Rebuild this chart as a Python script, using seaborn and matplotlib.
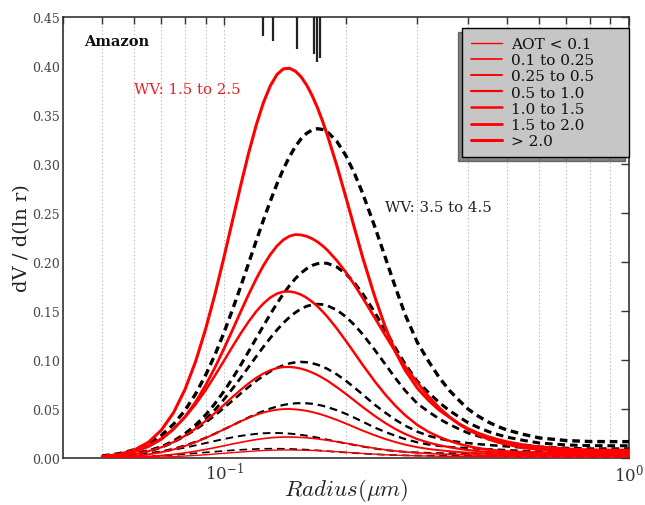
import numpy as np
import pandas as pd
import matplotlib
matplotlib.use("Agg")
import matplotlib.pyplot as plt
import seaborn as sns

# Radii (micrometres) at which the volume size distributions are tabulated
radius_um = [0.05, 0.055, 0.06, 0.065, 0.07, 0.075, 0.08, 0.085, 0.09, 0.095,
             0.10, 0.105, 0.11, 0.115, 0.12, 0.125, 0.13, 0.135, 0.14, 0.145,
             0.15, 0.155, 0.16, 0.165, 0.17, 0.175, 0.18, 0.19, 0.20, 0.21,
             0.22, 0.235, 0.25, 0.265, 0.28, 0.30, 0.32, 0.34, 0.36, 0.38,
             0.40, 0.425, 0.45, 0.475, 0.50, 0.55, 0.60, 0.70, 0.80, 0.90,
             1.00]

aot_classes = ["AOT < 0.1", "0.1 to 0.25", "0.25 to 0.5", "0.5 to 1.0",
               "1.0 to 1.5", "1.5 to 2.0", "> 2.0"]

# dV/dlnr for water vapour 1.5-2.5 cm, one list per AOT class
wv_low = [
    [0.0001, 0.0002, 0.0004, 0.0006, 0.0010, 0.0014, 0.0020, 0.0026, 0.0033, 0.0041,
     0.0048, 0.0055, 0.0061, 0.0067, 0.0072, 0.0076, 0.0079, 0.0081, 0.0082, 0.0082,
     0.0081, 0.0080, 0.0079, 0.0077, 0.0075, 0.0072, 0.0069, 0.0064, 0.0058, 0.0052,
     0.0046, 0.0039, 0.0033, 0.0029, 0.0025, 0.0022, 0.0020, 0.0018, 0.0017, 0.0016,
     0.0015, 0.0014, 0.0013, 0.0012, 0.0012, 0.0011, 0.0011, 0.0010, 0.0010, 0.0010,
     0.0010],
    [0.0002, 0.0005, 0.0009, 0.0016, 0.0025, 0.0037, 0.0052, 0.0069, 0.0087, 0.0106,
     0.0125, 0.0144, 0.0160, 0.0175, 0.0188, 0.0198, 0.0206, 0.0211, 0.0214, 0.0214,
     0.0212, 0.0210, 0.0206, 0.0201, 0.0195, 0.0188, 0.0181, 0.0166, 0.0150, 0.0135,
     0.0119, 0.0100, 0.0084, 0.0072, 0.0062, 0.0052, 0.0046, 0.0041, 0.0038, 0.0035,
     0.0032, 0.0029, 0.0026, 0.0024, 0.0023, 0.0022, 0.0021, 0.0020, 0.0020, 0.0020,
     0.0020],
    [0.0005, 0.0011, 0.0021, 0.0037, 0.0059, 0.0087, 0.0122, 0.0161, 0.0204, 0.0248,
     0.0293, 0.0335, 0.0375, 0.0410, 0.0440, 0.0464, 0.0481, 0.0493, 0.0499, 0.0500,
     0.0496, 0.0490, 0.0481, 0.0469, 0.0455, 0.0440, 0.0423, 0.0388, 0.0351, 0.0314,
     0.0279, 0.0233, 0.0194, 0.0162, 0.0136, 0.0110, 0.0092, 0.0079, 0.0069, 0.0061,
     0.0054, 0.0047, 0.0043, 0.0039, 0.0037, 0.0034, 0.0032, 0.0031, 0.0030, 0.0030,
     0.0030],
    [0.0009, 0.0020, 0.0039, 0.0069, 0.0110, 0.0163, 0.0226, 0.0299, 0.0379, 0.0461,
     0.0544, 0.0624, 0.0697, 0.0762, 0.0818, 0.0862, 0.0895, 0.0917, 0.0928, 0.0929,
     0.0923, 0.0911, 0.0894, 0.0872, 0.0847, 0.0818, 0.0788, 0.0721, 0.0653, 0.0585,
     0.0519, 0.0432, 0.0357, 0.0295, 0.0245, 0.0193, 0.0157, 0.0130, 0.0110, 0.0094,
     0.0081, 0.0069, 0.0061, 0.0055, 0.0051, 0.0046, 0.0043, 0.0041, 0.0040, 0.0040,
     0.0040],
    [0.0017, 0.0037, 0.0072, 0.0126, 0.0200, 0.0297, 0.0414, 0.0547, 0.0692, 0.0844,
     0.0995, 0.1140, 0.1274, 0.1393, 0.1495, 0.1576, 0.1637, 0.1677, 0.1697, 0.1699,
     0.1688, 0.1666, 0.1634, 0.1594, 0.1548, 0.1495, 0.1440, 0.1319, 0.1193, 0.1069,
     0.0949, 0.0787, 0.0648, 0.0532, 0.0436, 0.0337, 0.0266, 0.0214, 0.0175, 0.0144,
     0.0121, 0.0100, 0.0085, 0.0074, 0.0067, 0.0060, 0.0056, 0.0051, 0.0050, 0.0050,
     0.0050],
    [0.0014, 0.0032, 0.0064, 0.0116, 0.0191, 0.0293, 0.0420, 0.0571, 0.0742, 0.0927,
     0.1119, 0.1311, 0.1497, 0.1671, 0.1827, 0.1963, 0.2075, 0.2163, 0.2226, 0.2264,
     0.2280, 0.2276, 0.2262, 0.2238, 0.2206, 0.2166, 0.2120, 0.2013, 0.1893, 0.1765,
     0.1633, 0.1438, 0.1253, 0.1084, 0.0934, 0.0769, 0.0627, 0.0512, 0.0421, 0.0348,
     0.0290, 0.0234, 0.0191, 0.0160, 0.0138, 0.0104, 0.0086, 0.0069, 0.0063, 0.0060,
     0.0060],
    [0.0013, 0.0036, 0.0081, 0.0160, 0.0285, 0.0463, 0.0697, 0.0983, 0.1315, 0.1677,
     0.2056, 0.2432, 0.2790, 0.3114, 0.3396, 0.3625, 0.3797, 0.3912, 0.3971, 0.3977,
     0.3947, 0.3888, 0.3804, 0.3697, 0.3575, 0.3438, 0.3291, 0.2978, 0.2656, 0.2341,
     0.2043, 0.1659, 0.1337, 0.1083, 0.0895, 0.0714, 0.0587, 0.0489, 0.0416, 0.0349,
     0.0299, 0.0251, 0.0215, 0.0187, 0.0164, 0.0132, 0.0113, 0.0092, 0.0082, 0.0080,
     0.0080],
]

# dV/dlnr for water vapour 3.5-4.5 cm, same AOT classes
wv_high = [
    [0.0004, 0.0007, 0.0011, 0.0017, 0.0024, 0.0031, 0.0040, 0.0048, 0.0057, 0.0065,
     0.0072, 0.0079, 0.0084, 0.0088, 0.0092, 0.0094, 0.0095, 0.0095, 0.0094, 0.0093,
     0.0090, 0.0088, 0.0085, 0.0081, 0.0078, 0.0074, 0.0070, 0.0062, 0.0056, 0.0050,
     0.0045, 0.0038, 0.0033, 0.0029, 0.0027, 0.0025, 0.0024, 0.0023, 0.0023, 0.0023,
     0.0022, 0.0022, 0.0021, 0.0021, 0.0020, 0.0019, 0.0018, 0.0016, 0.0015, 0.0015,
     0.0015],
    [0.0010, 0.0018, 0.0030, 0.0045, 0.0063, 0.0084, 0.0106, 0.0129, 0.0152, 0.0174,
     0.0194, 0.0211, 0.0226, 0.0237, 0.0246, 0.0252, 0.0255, 0.0255, 0.0253, 0.0249,
     0.0243, 0.0236, 0.0227, 0.0218, 0.0208, 0.0198, 0.0187, 0.0166, 0.0149, 0.0132,
     0.0117, 0.0097, 0.0081, 0.0070, 0.0063, 0.0056, 0.0052, 0.0049, 0.0048, 0.0047,
     0.0046, 0.0045, 0.0044, 0.0042, 0.0041, 0.0037, 0.0035, 0.0032, 0.0030, 0.0030,
     0.0030],
    [0.0007, 0.0015, 0.0027, 0.0044, 0.0066, 0.0094, 0.0128, 0.0165, 0.0206, 0.0249,
     0.0293, 0.0335, 0.0376, 0.0414, 0.0449, 0.0479, 0.0504, 0.0525, 0.0541, 0.0552,
     0.0558, 0.0560, 0.0558, 0.0553, 0.0544, 0.0533, 0.0519, 0.0487, 0.0450, 0.0410,
     0.0370, 0.0312, 0.0266, 0.0226, 0.0193, 0.0160, 0.0137, 0.0123, 0.0113, 0.0106,
     0.0101, 0.0095, 0.0090, 0.0086, 0.0081, 0.0073, 0.0066, 0.0056, 0.0052, 0.0051,
     0.0050],
    [0.0013, 0.0026, 0.0047, 0.0076, 0.0116, 0.0165, 0.0224, 0.0289, 0.0361, 0.0436,
     0.0512, 0.0587, 0.0659, 0.0725, 0.0786, 0.0838, 0.0883, 0.0919, 0.0946, 0.0965,
     0.0976, 0.0980, 0.0977, 0.0967, 0.0952, 0.0932, 0.0909, 0.0852, 0.0787, 0.0717,
     0.0647, 0.0546, 0.0463, 0.0390, 0.0330, 0.0269, 0.0226, 0.0197, 0.0177, 0.0163,
     0.0152, 0.0141, 0.0133, 0.0125, 0.0118, 0.0105, 0.0095, 0.0079, 0.0073, 0.0071,
     0.0070],
    [0.0010, 0.0021, 0.0039, 0.0068, 0.0108, 0.0161, 0.0227, 0.0305, 0.0395, 0.0494,
     0.0600, 0.0710, 0.0820, 0.0930, 0.1035, 0.1134, 0.1224, 0.1306, 0.1377, 0.1437,
     0.1485, 0.1523, 0.1549, 0.1564, 0.1570, 0.1566, 0.1554, 0.1509, 0.1440, 0.1356,
     0.1261, 0.1108, 0.0957, 0.0813, 0.0688, 0.0556, 0.0471, 0.0399, 0.0342, 0.0297,
     0.0256, 0.0222, 0.0193, 0.0172, 0.0155, 0.0133, 0.0114, 0.0101, 0.0095, 0.0095,
     0.0095],
    [0.0010, 0.0021, 0.0040, 0.0071, 0.0114, 0.0173, 0.0247, 0.0337, 0.0440, 0.0557,
     0.0683, 0.0816, 0.0952, 0.1088, 0.1221, 0.1348, 0.1467, 0.1576, 0.1674, 0.1759,
     0.1831, 0.1889, 0.1933, 0.1965, 0.1983, 0.1990, 0.1986, 0.1948, 0.1879, 0.1785,
     0.1675, 0.1492, 0.1304, 0.1121, 0.0958, 0.0782, 0.0666, 0.0565, 0.0484, 0.0420,
     0.0361, 0.0310, 0.0269, 0.0238, 0.0213, 0.0179, 0.0153, 0.0133, 0.0126, 0.0125,
     0.0125],
    [0.0021, 0.0044, 0.0084, 0.0145, 0.0230, 0.0344, 0.0485, 0.0653, 0.0845, 0.1057,
     0.1284, 0.1519, 0.1756, 0.1990, 0.2215, 0.2426, 0.2620, 0.2795, 0.2947, 0.3075,
     0.3179, 0.3259, 0.3314, 0.3348, 0.3360, 0.3352, 0.3327, 0.3229, 0.3083, 0.2901,
     0.2698, 0.2372, 0.2048, 0.1740, 0.1462, 0.1180, 0.0985, 0.0820, 0.0690, 0.0590,
     0.0500, 0.0425, 0.0365, 0.0320, 0.0285, 0.0240, 0.0205, 0.0178, 0.0168, 0.0167,
     0.0167],
]

# Mode-radius markers hanging from the top axis
marker_radius = [0.1248, 0.1321, 0.1514, 0.1666, 0.1695, 0.1725]
marker_bottom = [0.4309, 0.4251, 0.4174, 0.4123, 0.4037, 0.4082]

sns.set_theme(style="white")
plt.rcParams["font.family"] = ["DejaVu Serif", "DejaVu Sans"]
plt.rcParams["mathtext.fontset"] = "cm"
plt.rcParams["lines.scale_dashes"] = False
plt.rcParams["lines.solid_joinstyle"] = "round"

fig = plt.figure(figsize=(6.45, 5.06), dpi=100)
ax = fig.add_axes([0.0977, 0.0929, 0.8775, 0.8715])

widths = [1.0, 1.2, 1.4, 1.6, 1.8, 2.0, 2.2]
dash_pattern = (0, (5.5, 3.5))

for i, label in enumerate(aot_classes):
    frame = pd.DataFrame({"radius": radius_um, "dv": wv_high[i]})
    sns.lineplot(data=frame, x="radius", y="dv", ax=ax, color="black",
                 lw=widths[i] + 0.2, linestyle=dash_pattern, legend=False,
                 estimator=None, sort=False, zorder=3)

for i, label in enumerate(aot_classes):
    frame = pd.DataFrame({"radius": radius_um, "dv": wv_low[i]})
    sns.lineplot(data=frame, x="radius", y="dv", ax=ax, color="red",
                 lw=widths[i], label=label, estimator=None, sort=False, zorder=4)

ax.vlines(marker_radius, marker_bottom, 0.45, color="#222222", lw=1.6, zorder=5)

ax.set_xscale("log")
ax.set_xlim(0.04, 1.0)
ax.set_ylim(0, 0.45)
ax.set_yticks(np.arange(0, 0.451, 0.05))
ax.yaxis.set_major_formatter(matplotlib.ticker.FormatStrFormatter("%.2f"))

ax.grid(True, which="both", axis="x", linestyle=":", color="#bcbcbc", lw=0.8, zorder=0)
ax.grid(False, axis="y")

ax.tick_params(which="both", direction="in", top=True, right=True, colors="#333333")
ax.tick_params(which="major", length=6, width=1.0)
ax.tick_params(which="minor", length=5, width=1.0)
ax.tick_params(axis="y", labelsize=9, labelcolor="#444444", pad=2)
ax.tick_params(axis="x", labelsize=12, labelcolor="#333333", pad=3)
for side in ax.spines.values():
    side.set_color("#333333")
    side.set_linewidth(1.2)

ax.set_xlabel(r"$Radius(\mu m)$", fontsize=16.5, color="#222222")
ax.xaxis.set_label_coords(0.5, -0.041)
ax.set_ylabel("dV / d(ln r)", fontsize=14, color="#222222", labelpad=1)

ax.text(0.0451, 0.4255, "Amazon", fontsize=10.5, fontweight="bold", ha="left",
        va="center", color="#111111")
ax.text(0.060, 0.3765, "WV: 1.5 to 2.5", fontsize=10.8, ha="left", va="center",
        color="#e8202a")
ax.text(0.2497, 0.2561, "WV: 3.5 to 4.5", fontsize=10.8, ha="left", va="center",
        color="#222222")

# Legend box spans a fixed width at the upper right of the axes
leg_w = 167 / 566
leg_h = 131 / 441
handles, labels = ax.get_legend_handles_labels()
leg = ax.legend(handles, labels, loc="upper left",
                bbox_to_anchor=(1.0 - leg_w, 0.975 - leg_h, leg_w, leg_h),
                mode="expand", borderaxespad=0.0, fontsize=11, labelspacing=0.14,
                handlelength=2.0, handletextpad=0.6, borderpad=0.6,
                fancybox=False, framealpha=1.0,
                shadow={"ox": -3, "oy": -3, "shade": 0.95})
leg.get_frame().set_facecolor("#c6c6c6")
leg.get_frame().set_edgecolor("black")
leg.get_frame().set_linewidth(1.0)
for txt in leg.get_texts():
    txt.set_color("#111111")

fig.savefig("out.png", dpi=100)
